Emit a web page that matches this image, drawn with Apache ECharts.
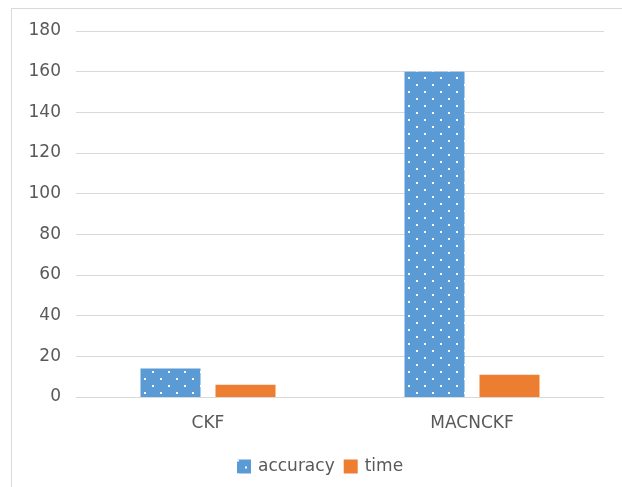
<!DOCTYPE html>
<html>
<head>
<meta charset="utf-8">
<script src="https://cdn.jsdelivr.net/npm/echarts@6/dist/echarts.min.js"></script>
<style>
  html, body { margin: 0; padding: 0; background: #fff; }
  #chart { width: 622px; height: 487px; }
</style>
</head>
<body>
<div id="chart"></div>
<script>
// Methods compared and their measured values
const categories = ['CKF', 'MACNCKF'];
const accuracy = [14, 160];
const time = [6, 11];
const yTicks = { min: 0, max: 180, interval: 20 };

// Dotted fill for the accuracy bars: blue tile with staggered white dots
function dotPattern() {
  const c = document.createElement('canvas');
  c.width = 16; c.height = 14;
  const g = c.getContext('2d');
  g.fillStyle = '#5B9BD5';
  g.fillRect(0, 0, 16, 14);
  g.fillStyle = '#ffffff';
  g.fillRect(0, 0, 2, 2);
  g.fillRect(8, 7, 2, 2);
  return c;
}

const chart = echarts.init(document.getElementById('chart'), null, { renderer: 'canvas' });
const textColor = '#595959';
const fontFamily = '"DejaVu Sans", Verdana, sans-serif';

chart.setOption({
  animation: false,
  textStyle: { fontFamily: fontFamily },
  graphic: [
    { type: 'line', shape: { x1: 11.5, y1: 8, x2: 11.5, y2: 487 }, style: { stroke: '#D9D9D9', lineWidth: 1 } },
    { type: 'line', shape: { x1: 11, y1: 8.5, x2: 622, y2: 8.5 }, style: { stroke: '#D9D9D9', lineWidth: 1 } }
  ],
  grid: { left: 76, right: 18, top: 31, bottom: 90 },
  legend: {
    top: 453,
    left: 232,
    itemWidth: 14,
    itemHeight: 14,
    itemGap: 9,
    icon: 'rect',
    textStyle: { color: textColor, fontSize: 17, fontFamily: fontFamily, padding: [0, 0, 0, 2] },
    data: ['accuracy', 'time']
  },
  xAxis: {
    type: 'category',
    data: categories,
    axisLine: { show: true, lineStyle: { color: '#D9D9D9', width: 1 } },
    axisTick: { show: false },
    axisLabel: { color: textColor, fontSize: 17, margin: 18, fontFamily: fontFamily }
  },
  yAxis: {
    type: 'value',
    min: yTicks.min,
    max: yTicks.max,
    interval: yTicks.interval,
    axisLine: { show: false },
    axisTick: { show: false },
    axisLabel: { color: textColor, fontSize: 17, margin: 15, fontFamily: fontFamily },
    splitLine: { lineStyle: { color: '#D9D9D9', width: 1 } }
  },
  series: [
    {
      name: 'accuracy',
      type: 'bar',
      data: accuracy,
      barWidth: 60,
      barGap: '25%',
      itemStyle: { color: { image: dotPattern(), repeat: 'repeat' } }
    },
    {
      name: 'time',
      type: 'bar',
      data: time,
      barWidth: 60,
      barGap: '25%',
      itemStyle: { color: '#ED7D31' }
    }
  ]
});
</script>
</body>
</html>
